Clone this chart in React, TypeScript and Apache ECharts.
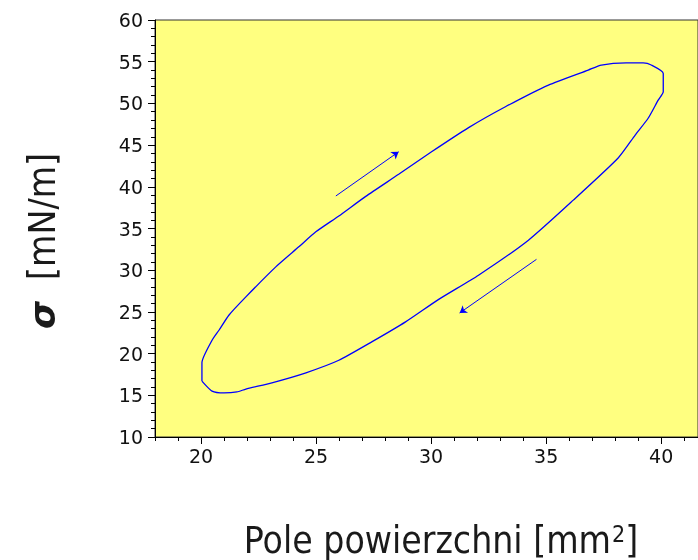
import React, { useEffect, useRef } from "react";
import * as echarts from "echarts";

// Hysteresis loop (surface pressure vs surface area)
const loopX = [20.04, 20.04, 20.48, 20.78, 21.21, 21.95, 23.25, 24.25, 24.99, 25.99, 27.16, 28.59, 30.02, 31.63, 33.23, 35.1, 36.83, 37.4, 38.48, 39.22, 39.57, 40.09, 40.09, 39.87, 39.44, 38.87, 38.13, 36.18, 34.23, 32.06, 30.33, 28.89, 27.42, 25.99, 24.56, 23.08, 21.95, 21.56, 21.0, 20.48, 20.04];
const loopY = [16.7, 18.9, 21.6, 22.8, 24.6, 26.8, 30.4, 32.8, 34.6, 36.5, 38.85, 41.5, 44.2, 47.1, 49.6, 52.2, 54.0, 54.6, 54.85, 54.85, 54.6, 53.6, 51.4, 50.4, 48.25, 46.2, 43.45, 38.4, 33.6, 29.4, 26.5, 23.8, 21.4, 19.2, 17.7, 16.5, 15.75, 15.4, 15.28, 15.5, 16.7];

// Direction arrows: [start, end]
const arrowUp = [[25.86, 38.9], [28.59, 44.2]];
const arrowDown = [[34.58, 31.3], [31.24, 24.87]];

// Axis ticks
const xMajorTicks = [20, 25, 30, 35, 40];
const xMinorTicks = [18, 19, 21, 22, 23, 24, 26, 27, 28, 29, 31, 32, 33, 34, 36, 37, 38, 39, 41];

const xTitle = "Pole powierzchni [mm";
const yTitleSymbol = "σ";
const yTitleUnit = "[mN/m]";

export default function App() {
  const ref = useRef<HTMLDivElement>(null);

  useEffect(() => {
    if (!ref.current) return;
    const chart = echarts.init(ref.current, null, { renderer: "svg" });
    const tickFont = "'DejaVu Sans', sans-serif";
    const titleFont = "'DejaVu Sans Condensed', 'DejaVu Sans', sans-serif";
    const loopData = loopX.map((x, i) => [x, loopY[i]]);

    chart.setOption({
      animation: false,
      grid: {
        left: 155,
        top: 20,
        right: -2,
        bottom: 123,
        show: true,
        backgroundColor: "#ffff80",
        borderColor: "#333",
        borderWidth: 1,
      },
      xAxis: [
        {
          type: "value",
          min: 18,
          max: 41.6,
          position: "bottom",
          axisLine: { show: true, lineStyle: { color: "#000", width: 1 } },
          axisTick: { show: true, length: 7, customValues: xMajorTicks, lineStyle: { color: "#000" } },
          axisLabel: {
            customValues: xMajorTicks,
            margin: 9,
            fontSize: 19,
            fontFamily: tickFont,
            color: "#111",
          },
          splitLine: { show: false },
        },
        {
          type: "value",
          min: 18,
          max: 41.6,
          position: "bottom",
          axisLine: { show: false },
          axisTick: { show: true, length: 4, customValues: xMinorTicks, lineStyle: { color: "#000" } },
          axisLabel: { show: false },
          splitLine: { show: false },
        },
      ],
      yAxis: {
        type: "value",
        min: 10,
        max: 60,
        interval: 5,
        axisLine: { show: true, lineStyle: { color: "#000", width: 1 } },
        axisTick: { show: true, length: 7, lineStyle: { color: "#000" } },
        minorTick: { show: true, splitNumber: 5, length: 4, lineStyle: { color: "#000" } },
        axisLabel: { margin: 12, fontSize: 19, fontFamily: tickFont, color: "#111" },
        splitLine: { show: false },
        minorSplitLine: { show: false },
      },
      series: [
        {
          type: "line",
          data: loopData,
          showSymbol: false,
          symbol: "none",
          smooth: 0.2,
          lineStyle: { color: "#0000ff", width: 1.3 },
          xAxisIndex: 0,
          yAxisIndex: 0,
        },
        {
          type: "lines",
          coordinateSystem: "cartesian2d",
          xAxisIndex: 0,
          yAxisIndex: 0,
          symbol: ["none", "arrow"],
          symbolSize: 7,
          lineStyle: { color: "#0000ff", width: 1, opacity: 1 },
          data: [{ coords: arrowUp }, { coords: arrowDown }],
        },
      ],
      graphic: [
        {
          type: "text",
          x: 441,
          y: 540,
          style: {
            text: `{a|${xTitle}}{b|2}{a|]}`,
            align: "center",
            verticalAlign: "middle",
            fill: "#1a1a1a",
            rich: {
              a: { fontSize: 37, fontFamily: titleFont, fill: "#1a1a1a", lineHeight: 42 },
              b: { fontSize: 23, fontFamily: titleFont, fill: "#1a1a1a", verticalAlign: "top", lineHeight: 24, padding: [3, 0, 0, 1] },
            },
          },
        },
        {
          type: "text",
          x: 42,
          y: 241,
          rotation: Math.PI / 2,
          style: {
            text: `{s|${yTitleSymbol}}  {a|${yTitleUnit}}`,
            align: "center",
            verticalAlign: "middle",
            fill: "#1a1a1a",
            fontSize: 37,
            fontFamily: titleFont,
            rich: {
              s: { fontSize: 36, fontFamily: "'DejaVu Sans', sans-serif", fontStyle: "italic", fontWeight: "bold", fill: "#1a1a1a" },
              a: { fontSize: 37, fontFamily: titleFont, fill: "#1a1a1a" },
            },
          },
        },
      ],
    });

    return () => chart.dispose();
  }, []);

  return <div ref={ref} style={{ position: "fixed", left: 0, top: 0, width: 698, height: 560 }} />;
}
